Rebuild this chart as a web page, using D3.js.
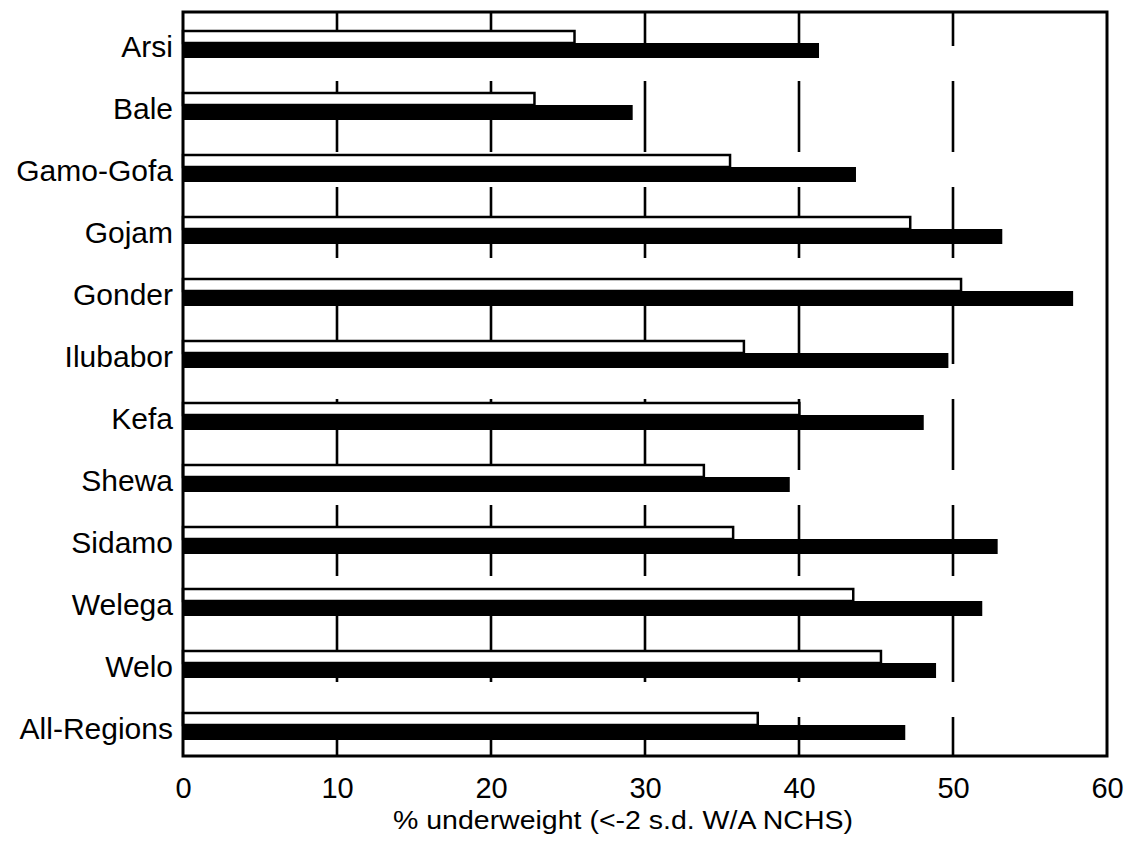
<!DOCTYPE html>
<html>
<head>
<meta charset="utf-8">
<script src="https://cdn.jsdelivr.net/npm/d3@7"></script>
<style>
  html, body { margin: 0; padding: 0; background: #fff; }
  svg { display: block; }
  text { font-family: "Liberation Sans", Arial, Helvetica, sans-serif; fill: #000; }
</style>
</head>
<body>
<svg id="chart" width="1130" height="868"></svg>
<script>
const categories = ["Arsi", "Bale", "Gamo-Gofa", "Gojam", "Gonder", "Ilubabor", "Kefa", "Shewa", "Sidamo", "Welega", "Welo", "All-Regions"];
const seriesWhite = [25.5, 22.9, 35.6, 47.3, 50.6, 36.5, 40.1, 33.9, 35.8, 43.6, 45.4, 37.4];
const seriesBlack = [41.3, 29.2, 43.7, 53.2, 57.8, 49.7, 48.1, 39.4, 52.9, 51.9, 48.9, 46.9];
const tickValues = [0, 10, 20, 30, 40, 50, 60];
const gridValues = [10, 20, 30, 40, 50];
const xTitle = "% underweight (<-2 s.d. W/A NCHS)";

(function () {
const svg = d3.select("#chart");
const pL = 183, pR = 1107, pT = 12, pB = 756;

const x = d3.scaleLinear().domain([0, 60]).range([pL, pR]);
const y = d3.scaleBand().domain(categories).range([pT, pB]).paddingInner(0).paddingOuter(0);

// dashed gridlines (drawn first, bars occlude them)
svg.append("g").selectAll("line").data(gridValues).join("line")
  .attr("x1", d => x(d)).attr("x2", d => x(d))
  .attr("y1", pT).attr("y2", pB)
  .attr("stroke", "#000").attr("stroke-width", 2.6)
  .attr("stroke-dasharray", "71 35").attr("stroke-dashoffset", 37);

const rows = categories.map((c, i) => ({ c, w: seriesWhite[i], b: seriesBlack[i] }));
const mid = d => y(d.c) + y.bandwidth() / 2;

// white (outlined) bars
svg.append("g").selectAll("rect").data(rows).join("rect")
  .attr("x", x(0))
  .attr("y", d => mid(d) - 12)
  .attr("width", d => x(d.w) - x(0) - 1.2)
  .attr("height", 12)
  .attr("fill", "#fff").attr("stroke", "#000").attr("stroke-width", 2.5);

// black bars
svg.append("g").selectAll("rect").data(rows).join("rect")
  .attr("x", x(0))
  .attr("y", d => mid(d))
  .attr("width", d => x(d.b) - x(0))
  .attr("height", 15)
  .attr("fill", "#000");

// frame
svg.append("rect")
  .attr("x", pL).attr("y", pT)
  .attr("width", pR - pL).attr("height", pB - pT)
  .attr("fill", "none").attr("stroke", "#000").attr("stroke-width", 3);

// category labels
svg.append("g").selectAll("text").data(categories).join("text")
  .attr("x", pL - 10)
  .attr("y", d => y(d) + y.bandwidth() / 2 + 14)
  .attr("text-anchor", "end")
  .style("font-size", "30px")
  .text(d => d);

// x axis tick labels
const xAxis = d3.axisBottom(x).tickValues(tickValues).tickSize(0).tickPadding(0).tickFormat(d3.format("d"));
const gx = svg.append("g").attr("transform", "translate(0, 798)").call(xAxis);
gx.select(".domain").remove();
gx.selectAll("text")
  .attr("y", 0).attr("dy", 0)
  .style("font-size", "29px")
  .style("font-family", "'Liberation Sans', Arial, sans-serif")
  .attr("fill", "#000");

// x axis title
svg.append("text")
  .attr("x", 393).attr("y", 829)
  .attr("textLength", 460).attr("lengthAdjust", "spacingAndGlyphs")
  .style("font-size", "25px")
  .text(xTitle);
})();
</script>
</body>
</html>
